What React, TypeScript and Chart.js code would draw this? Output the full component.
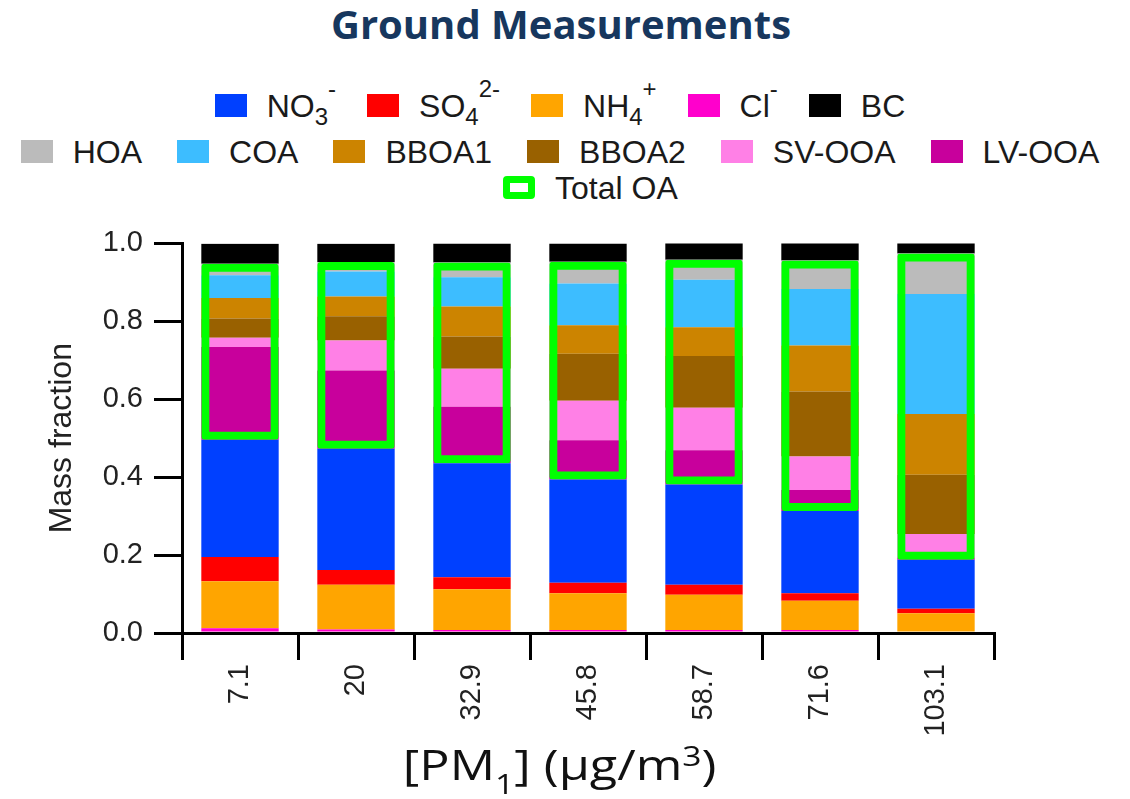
import React, { useEffect, useRef } from "react";
import { Chart, registerables } from "chart.js";

Chart.register(...registerables);

// ---- data (mass fractions) ----
const categories = ["7.1", "20", "32.9", "45.8", "58.7", "71.6", "103.1"];
const clVals = [0.012, 0.009, 0.008, 0.008, 0.008, 0.008, 0.004];
const nh4Vals = [0.121, 0.115, 0.104, 0.094, 0.09, 0.075, 0.047];
const so4Vals = [0.062, 0.038, 0.031, 0.027, 0.026, 0.019, 0.011];
const no3Vals = [0.301, 0.311, 0.293, 0.265, 0.257, 0.211, 0.126];
const lvooaVals = [0.238, 0.201, 0.145, 0.101, 0.088, 0.054, 0.006];
const svooaVals = [0.024, 0.077, 0.097, 0.101, 0.109, 0.086, 0.06];
const bboa2Vals = [0.049, 0.062, 0.083, 0.121, 0.133, 0.167, 0.152];
const bboa1Vals = [0.053, 0.051, 0.077, 0.073, 0.074, 0.118, 0.156];
const coaVals = [0.058, 0.064, 0.075, 0.107, 0.122, 0.145, 0.308];
const hoaVals = [0.03, 0.024, 0.038, 0.056, 0.051, 0.073, 0.104];
const bcVals = [0.051, 0.047, 0.049, 0.047, 0.043, 0.045, 0.027];
const yTickValues = [0, 0.2, 0.4, 0.6, 0.8, 1.0];

// ---- colours ----
const C_NO3 = "#0040FF";
const C_SO4 = "#FF0000";
const C_NH4 = "#FFA500";
const C_CL = "#FF00CC";
const C_BC = "#000000";
const C_HOA = "#BBBBBB";
const C_COA = "#3DBDFF";
const C_BBOA1 = "#CC8400";
const C_BBOA2 = "#996100";
const C_SVOOA = "#FF80E6";
const C_LVOOA = "#C8009C";
const C_TOA = "#00FF00";

const SANS = "'Liberation Sans', Arial, sans-serif";
const TITLE_FONT = "'Open Sans', sans-serif";

type LegendItem = { main: string; sub?: string; sup?: string; color: string };

const legendRow1: LegendItem[] = [
  { main: "NO", sub: "3", sup: "-", color: C_NO3 },
  { main: "SO", sub: "4", sup: "2-", color: C_SO4 },
  { main: "NH", sub: "4", sup: "+", color: C_NH4 },
  { main: "Cl", sup: "-", color: C_CL },
  { main: "BC", color: C_BC },
];
const legendRow2: LegendItem[] = [
  { main: "HOA", color: C_HOA },
  { main: "COA", color: C_COA },
  { main: "BBOA1", color: C_BBOA1 },
  { main: "BBOA2", color: C_BBOA2 },
  { main: "SV-OOA", color: C_SVOOA },
  { main: "LV-OOA", color: C_LVOOA },
];

function LegendEntry({ item, first, gap }: { item: LegendItem; first: boolean; gap: number }) {
  return (
    <span style={{ whiteSpace: "nowrap", marginLeft: first ? 0 : gap }}>
      <span
        style={{
          display: "inline-block",
          width: 32,
          height: 23,
          background: item.color,
          marginRight: 20,
          verticalAlign: "baseline",
        }}
      />
      <span>{item.main}</span>
      {item.sub ? (
        <span style={{ fontSize: 24, position: "relative", top: 8 }}>{item.sub}</span>
      ) : null}
      {item.sup ? (
        <span style={{ fontSize: 24, position: "relative", top: -20 }}>{item.sup}</span>
      ) : null}
    </span>
  );
}

function LegendRow({ items, top, gap }: { items: LegendItem[]; top: number; gap: number }) {
  return (
    <div
      style={{
        position: "absolute",
        left: 0,
        top,
        width: 1120,
        textAlign: "center",
        fontFamily: SANS,
        fontSize: 32,
        lineHeight: "32px",
        height: 32,
        color: "#1a1a1a",
        whiteSpace: "nowrap",
      }}
    >
      {items.map((it, i) => (
        <LegendEntry key={i} item={it} first={i === 0} gap={gap} />
      ))}
    </div>
  );
}

export default function App() {
  const canvasRef = useRef<HTMLCanvasElement | null>(null);

  useEffect(() => {
    const canvas = canvasRef.current;
    if (!canvas) return;

    const stackSeries: { label: string; data: number[]; color: string }[] = [
      { label: "Cl-", data: clVals, color: C_CL },
      { label: "NH4+", data: nh4Vals, color: C_NH4 },
      { label: "SO4 2-", data: so4Vals, color: C_SO4 },
      { label: "NO3-", data: no3Vals, color: C_NO3 },
      { label: "LV-OOA", data: lvooaVals, color: C_LVOOA },
      { label: "SV-OOA", data: svooaVals, color: C_SVOOA },
      { label: "BBOA2", data: bboa2Vals, color: C_BBOA2 },
      { label: "BBOA1", data: bboa1Vals, color: C_BBOA1 },
      { label: "COA", data: coaVals, color: C_COA },
      { label: "HOA", data: hoaVals, color: C_HOA },
      { label: "BC", data: bcVals, color: C_BC },
    ];

    const oaRanges = categories.map((_, i) => {
      const start = clVals[i] + nh4Vals[i] + so4Vals[i] + no3Vals[i];
      const oa =
        lvooaVals[i] + svooaVals[i] + bboa2Vals[i] + bboa1Vals[i] + coaVals[i] + hoaVals[i];
      return [start, start + oa];
    });

    const datasets: any[] = stackSeries.map((s) => ({
      label: s.label,
      data: s.data,
      backgroundColor: s.color,
      borderWidth: 0,
      barPercentage: 0.667,
      categoryPercentage: 1,
      grouped: false,
      yAxisID: "y",
      order: 0,
    }));
    datasets.push({
      label: "Total OA",
      data: oaRanges,
      backgroundColor: "rgba(0,0,0,0)",
      borderColor: C_TOA,
      borderWidth: 8,
      borderSkipped: false,
      borderRadius: 3,
      barPercentage: 0.667,
      categoryPercentage: 1,
      grouped: false,
      yAxisID: "y2",
      order: -1,
    });

    const tickFont = { family: SANS, size: 29 };

    const chart = new Chart(canvas, {
      type: "bar",
      data: { labels: categories, datasets },
      options: {
        animation: false,
        responsive: false,
        maintainAspectRatio: false,
        layout: { padding: { left: 0, top: 0, right: 136, bottom: 0 } },
        plugins: {
          legend: { display: false },
          tooltip: { enabled: false },
          title: { display: false },
        },
        scales: {
          x: {
            stacked: true,
            offset: true,
            grid: {
              display: true,
              offset: true,
              drawOnChartArea: false,
              drawTicks: true,
              tickLength: 27,
              tickWidth: 3,
              tickColor: "#000",
              color: "#000",
              lineWidth: 3,
            },
            border: { display: true, color: "#000", width: 3 },
            ticks: {
              autoSkip: false,
              minRotation: 90,
              maxRotation: 90,
              padding: 4,
              color: "#222",
              font: tickFont,
            },
            afterFit: (s: any) => {
              s.height = 166;
            },
          },
          y: {
            stacked: true,
            min: 0,
            max: 1,
            grid: {
              display: true,
              drawOnChartArea: false,
              drawTicks: true,
              tickLength: 28,
              tickWidth: 3,
              tickColor: "#000",
              color: "#000",
              lineWidth: 3,
            },
            border: { display: true, color: "#000", width: 3 },
            afterBuildTicks: (s: any) => {
              s.ticks = yTickValues.map((v) => ({ value: v }));
            },
            ticks: {
              padding: 11,
              color: "#222",
              font: tickFont,
              callback: (v: any) => Number(v).toFixed(1),
            },
            title: {
              display: true,
              text: "Mass fraction",
              color: "#222",
              font: { family: SANS, size: 32 },
              padding: { top: 43, bottom: 0 },
            },
            afterFit: (s: any) => {
              s.width = 182;
            },
          },
          y2: {
            display: false,
            min: 0,
            max: 1,
            stacked: false,
          },
        },
      } as any,
    });

    return () => {
      chart.destroy();
    };
  }, []);

  return (
    <div
      style={{
        position: "absolute",
        left: 0,
        top: 0,
        width: 1130,
        height: 799,
        overflow: "hidden",
        background: "#fff",
      }}
    >
      <div
        style={{
          position: "absolute",
          left: 0,
          top: 4,
          width: 1122,
          textAlign: "center",
          fontFamily: TITLE_FONT,
          fontWeight: 700,
          fontSize: 40,
          lineHeight: "40px",
          color: "#17375E",
          whiteSpace: "nowrap",
        }}
      >
        Ground Measurements
      </div>

      <LegendRow items={legendRow1} top={90} gap={31} />
      <LegendRow items={legendRow2} top={136} gap={35} />
      <div
        style={{
          position: "absolute",
          left: 503,
          top: 172,
          fontFamily: SANS,
          fontSize: 32,
          lineHeight: "32px",
          height: 32,
          color: "#1a1a1a",
          whiteSpace: "nowrap",
        }}
      >
        <span
          style={{
            display: "inline-block",
            width: 32,
            height: 23,
            boxSizing: "border-box",
            border: `7px solid ${C_TOA}`,
            borderRadius: 4,
            marginRight: 20,
            verticalAlign: "baseline",
          }}
        />
        <span>Total OA</span>
      </div>

      <canvas
        ref={canvasRef}
        width={1130}
        height={584}
        style={{ position: "absolute", left: 0, top: 215, width: 1130, height: 584, display: "block" }}
      />

      <div
        style={{
          position: "absolute",
          left: 0,
          top: 743,
          width: 1120,
          textAlign: "center",
          fontFamily: TITLE_FONT,
          fontSize: 42,
          lineHeight: "42px",
          color: "#111",
          whiteSpace: "nowrap",
        }}
      >
        <span style={{ display: "inline-block", transform: "scaleX(1.2)", transformOrigin: "center" }}>
          [PM<span style={{ fontSize: 28, position: "relative", top: 14 }}>1</span>] (μg/m
          <span style={{ fontSize: 28, position: "relative", top: -14 }}>3</span>)
        </span>
      </div>
    </div>
  );
}
